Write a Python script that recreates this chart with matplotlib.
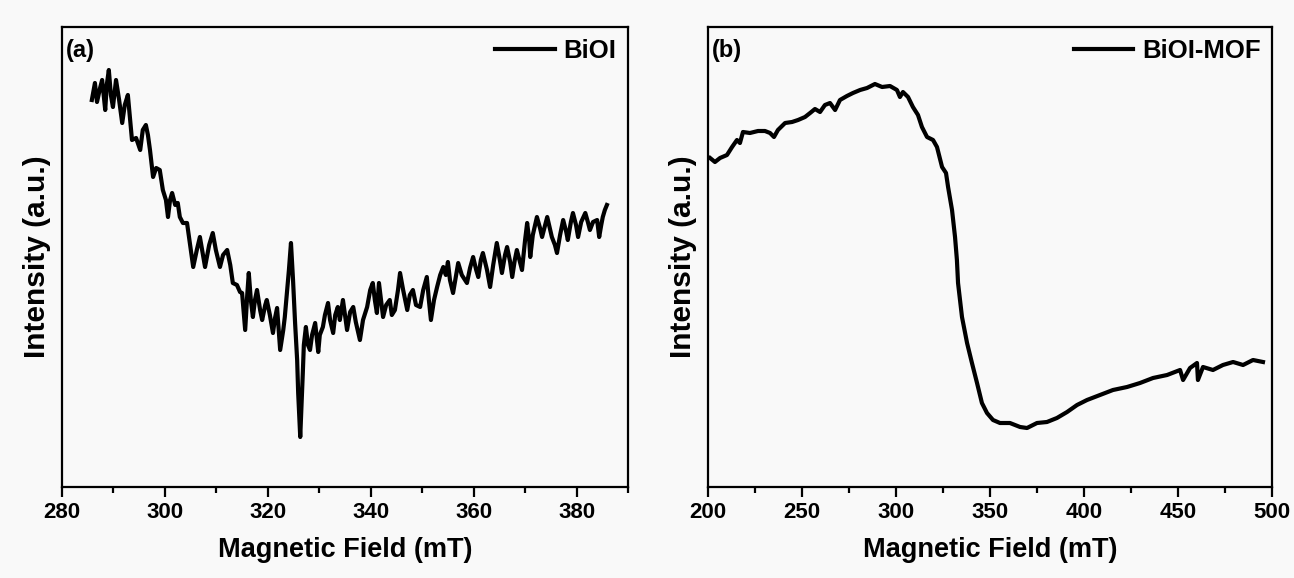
import matplotlib
matplotlib.use("Agg")
import matplotlib.pyplot as plt
from matplotlib.ticker import MultipleLocator

# ---------------- data ----------------
biol_field = [285.8, 286.4, 286.8, 287.4, 287.8, 288.4, 288.7, 289.1, 289.5, 289.9,
              290.5, 291.1, 291.7, 292.2, 292.8, 293.2, 293.6, 294.4, 295.2, 295.7,
              296.3, 296.7, 297.1, 297.7, 298.3, 299.0, 299.6, 300.2, 300.6, 301.0,
              301.4, 302.0, 302.5, 302.9, 303.5, 304.3, 304.9, 305.5, 306.2, 306.8,
              307.4, 307.8, 308.6, 309.3, 309.9, 310.7, 311.3, 312.1, 312.7, 313.2,
              314.0, 314.6, 315.0, 315.6, 316.0, 316.3, 316.7, 317.1, 317.5, 317.9,
              318.5, 318.9, 319.5, 319.8, 320.4, 321.0, 321.4, 321.8, 322.4, 323.0,
              323.3, 323.7, 324.1, 324.5, 324.9, 325.3, 325.7, 325.9, 326.3, 326.6,
              326.8, 327.0, 327.4, 327.8, 328.2, 328.6, 329.2, 329.8, 330.1, 330.7,
              331.1, 331.7, 332.1, 332.7, 333.1, 333.6, 334.0, 334.6, 335.0, 335.4,
              336.0, 336.6, 337.1, 337.9, 338.5, 339.3, 339.9, 340.4, 340.8, 341.2,
              341.6, 342.0, 342.4, 343.0, 343.7, 344.1, 344.7, 345.3, 345.7, 346.3,
              347.1, 347.6, 348.2, 348.8, 349.6, 350.2, 350.9, 351.3, 351.7, 352.3,
              352.9, 353.5, 354.1, 354.6, 355.0, 355.4, 356.0, 356.6, 357.0, 357.7,
              358.7, 359.3, 359.9, 360.5, 360.9, 361.4, 361.8, 362.6, 363.2, 363.8,
              364.5, 365.1, 365.5, 366.1, 366.5, 367.1, 367.5, 368.0, 368.4, 369.0,
              369.4, 370.0, 370.4, 370.8, 371.0, 371.5, 372.3, 372.9, 373.3, 373.9,
              374.3, 374.8, 375.2, 375.8, 376.2, 376.8, 377.4, 378.0, 378.3, 378.9,
              379.3, 379.9, 380.3, 380.9, 381.7, 382.2, 382.6, 383.2, 384.0, 384.4,
              384.8, 385.1, 385.5, 385.9]
biol_intensity = [38.7, 40.4, 38.5, 39.9, 40.7, 37.7, 40.2, 41.7, 39.2, 38.0,
                  40.7, 38.7, 36.4, 38.2, 39.2, 36.9, 34.7, 34.9, 33.7, 35.7,
                  36.2, 35.2, 33.7, 31.0, 31.9, 31.7, 29.7, 28.7, 27.0, 28.7,
                  29.4, 28.2, 28.4, 27.0, 26.4, 26.4, 24.2, 22.0, 23.7, 25.0,
                  23.2, 22.0, 24.2, 25.4, 23.7, 22.0, 23.2, 23.7, 22.2, 20.4,
                  20.2, 19.5, 19.4, 15.7, 19.2, 21.4, 18.7, 17.0, 18.7, 19.7,
                  17.7, 16.7, 18.2, 18.7, 17.2, 15.4, 16.9, 17.9, 13.7, 15.7,
                  17.0, 19.4, 21.7, 24.4, 20.7, 16.4, 12.7, 9.4, 5.0, 8.7,
                  11.4, 14.2, 16.0, 14.2, 13.7, 15.2, 16.4, 13.5, 15.2, 16.0,
                  17.2, 18.4, 16.7, 15.4, 17.2, 18.0, 16.7, 18.7, 17.2, 15.7,
                  17.5, 18.0, 16.5, 14.7, 16.7, 18.0, 19.7, 20.4, 18.7, 17.4,
                  20.4, 18.7, 17.0, 18.2, 18.7, 17.2, 17.7, 19.7, 21.4, 19.7,
                  17.7, 19.2, 19.7, 18.2, 18.0, 19.7, 21.0, 18.7, 16.7, 18.7,
                  20.0, 21.2, 22.0, 21.2, 22.5, 20.7, 19.4, 21.2, 22.4, 21.2,
                  20.4, 21.9, 23.0, 21.7, 21.0, 22.7, 23.4, 21.7, 20.0, 22.2,
                  24.4, 22.7, 21.4, 23.2, 24.0, 22.5, 21.0, 22.7, 23.7, 22.5,
                  21.7, 24.7, 26.4, 24.7, 23.0, 25.2, 27.0, 25.9, 25.0, 26.2,
                  27.0, 25.9, 25.0, 24.2, 23.4, 25.2, 26.7, 25.5, 24.7, 26.5,
                  27.4, 26.2, 25.0, 26.5, 27.4, 26.5, 25.7, 26.5, 26.7, 25.0,
                  26.2, 27.0, 27.7, 28.2]

mof_field = [201.1, 203.7, 206.4, 210.1, 212.8, 215.4, 217.0, 218.6, 222.3, 226.6,
             230.3, 233.0, 235.1, 237.2, 241.0, 244.7, 247.9, 251.6, 254.3, 256.9,
             259.6, 262.2, 264.9, 267.6, 270.2, 273.9, 277.1, 280.9, 284.6, 288.8,
             292.6, 296.8, 300.5, 302.1, 303.7, 306.4, 309.0, 311.7, 313.8, 316.5,
             319.7, 321.8, 324.5, 326.6, 327.7, 329.8, 331.4, 332.4, 333.0, 335.1,
             337.8, 340.4, 343.1, 345.7, 348.4, 351.6, 355.3, 360.6, 366.0, 369.7,
             375.0, 380.3, 385.6, 391.0, 396.3, 401.6, 408.5, 415.4, 422.9, 429.8,
             436.7, 444.2, 451.1, 452.7, 456.4, 460.1, 460.6, 463.3, 468.6, 473.9,
             479.3, 484.6, 489.9, 495.2]
mof_intensity = [32.9, 32.5, 32.9, 33.2, 34.0, 34.7, 34.4, 35.5, 35.4, 35.6,
                 35.6, 35.4, 35.0, 35.7, 36.4, 36.5, 36.7, 37.0, 37.4, 37.8,
                 37.5, 38.2, 38.4, 37.7, 38.7, 39.1, 39.4, 39.7, 39.9, 40.3,
                 40.0, 40.1, 39.7, 39.0, 39.5, 39.0, 38.0, 37.2, 36.0, 35.0,
                 34.7, 34.0, 32.0, 31.4, 30.0, 27.7, 25.0, 22.7, 20.4, 17.0,
                 14.4, 12.4, 10.4, 8.4, 7.4, 6.7, 6.4, 6.4, 6.0, 5.9,
                 6.4, 6.5, 6.9, 7.5, 8.2, 8.7, 9.2, 9.7, 10.0, 10.4,
                 10.9, 11.2, 11.7, 10.7, 11.9, 12.4, 10.7, 12.0, 11.7, 12.2,
                 12.5, 12.2, 12.7, 12.5]

panel_labels = ["(a)", "(b)"]
series_names = ["BiOI", "BiOI-MOF"]
xlabel_text = "Magnetic Field (mT)"
ylabel_text = "Intensity (a.u.)"

# ---------------- styling ----------------
plt.rcParams['font.family'] = ['Liberation Sans', 'DejaVu Sans']
plt.rcParams['font.weight'] = 'bold'
bg = '#f9f9f9'

fig = plt.figure(figsize=(12.94, 5.78), dpi=100, facecolor=bg)
ax1 = fig.add_axes([62/1294, 1-487/578, 566/1294, 460/578], facecolor=bg)
ax2 = fig.add_axes([708/1294, 1-487/578, 564/1294, 460/578], facecolor=bg)

specs = [
    (ax1, biol_field, biol_intensity, (280, 390), 20, 10, 3.0),
    (ax2, mof_field, mof_intensity, (200, 500), 50, 25, 3.0),
]
for i, (ax, xs, ys, xl, major, minor, lw) in enumerate(specs):
    ax.plot(xs, ys, color='black', lw=lw, solid_joinstyle='round',
            label=series_names[i])
    ax.set_xlim(*xl)
    ax.set_ylim(0, 46)
    ax.xaxis.set_major_locator(MultipleLocator(major))
    ax.xaxis.set_minor_locator(MultipleLocator(minor))
    ax.set_yticks([])
    ax.tick_params(axis='x', which='major', direction='out', length=7,
                   width=1.6, labelsize=16, pad=4)
    ax.tick_params(axis='x', which='minor', direction='out', length=4,
                   width=1.6)
    for sp in ax.spines.values():
        sp.set_linewidth(1.6)
    for lab in ax.get_xticklabels():
        lab.set_fontweight('bold')
    ax.set_xlabel(xlabel_text, fontsize=19.5, fontweight='bold', labelpad=10)
    ax.set_ylabel(ylabel_text, fontsize=21.5, fontweight='bold', labelpad=8)
    ax.text(0.006, 0.975, panel_labels[i], transform=ax.transAxes,
            fontsize=17, fontweight='bold', va='top', ha='left')
    leg = ax.legend(loc='upper right', frameon=False, fontsize=18.5,
                    handlelength=2.3, handletextpad=0.35,
                    borderaxespad=0.25, borderpad=0.2)
    for t in leg.get_texts():
        t.set_fontweight('bold')

fig.savefig('out.png', dpi=100, facecolor=bg)
